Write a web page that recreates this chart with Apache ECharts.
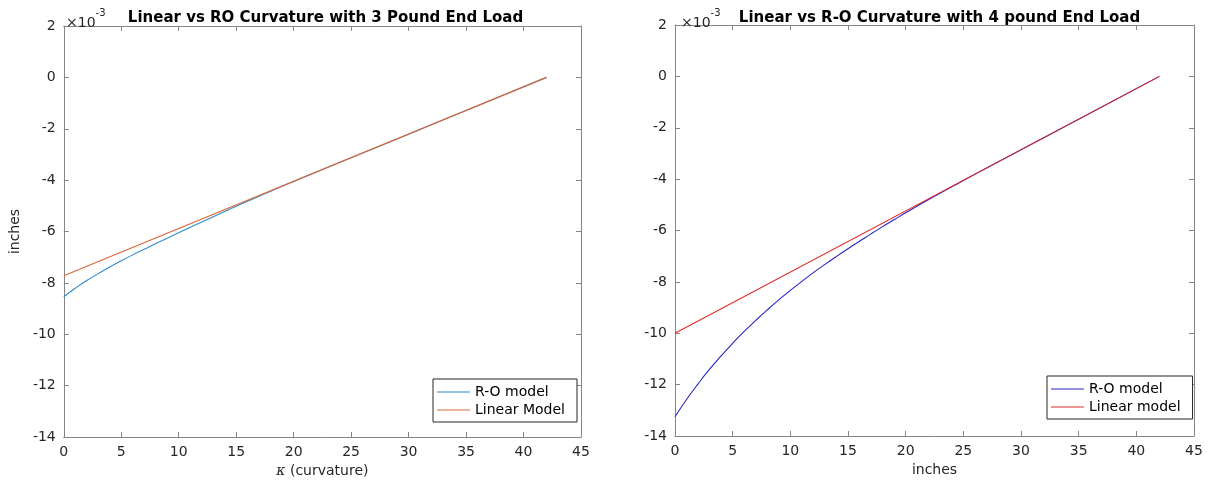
<!DOCTYPE html>
<html>
<head>
<meta charset="utf-8">
<script src="https://cdn.jsdelivr.net/npm/echarts@6/dist/echarts.min.js"></script>
<style>
    html, body { margin: 0; padding: 0; background: #fff; }
    #left { position: absolute; left: 0; top: 0; width: 620px; height: 490px; }
    #right { position: absolute; left: 620px; top: 0; width: 595px; height: 490px; }
</style>
</head>
<body>
<div id="left"></div>
<div id="right"></div>
<script>
// 数据（单位 1e-3 英寸）
const xTicks = [0, 5, 10, 15, 20, 25, 30, 35, 40, 45];
const yTicks = [-14, -12, -10, -8, -6, -4, -2, 0, 2];

// 左图：3 磅端部载荷
const leftX = [0, 1, 2, 3, 4, 5, 6, 7, 8, 10, 12, 14, 16, 18, 20, 22, 25, 30, 35, 42];
const leftRO = [-8.54, -8.21, -7.91, -7.64, -7.38, -7.14, -6.91, -6.69, -6.47, -6.05, -5.63, -5.22, -4.82, -4.43, -4.05, -3.68, -3.13, -2.21, -1.29, 0];
const leftLinX = [0, 42];
const leftLin = [-7.72, 0];

// 右图：4 磅端部载荷
const rightX = [0, 1, 2, 3, 4, 5, 6, 7, 8, 9, 10, 11, 12, 13, 14, 15, 16, 17, 18, 19, 20, 22, 24, 26, 30, 35, 42];
const rightRO = [-13.25, -12.58, -11.97, -11.40, -10.88, -10.39, -9.93, -9.50, -9.09, -8.70, -8.33, -7.98, -7.64, -7.32, -7.01, -6.71, -6.42, -6.13, -5.85, -5.58, -5.31, -4.79, -4.30, -3.81, -2.86, -1.67, 0];
const rightLinX = [0, 42];
const rightLin = [-10, 0];

const FONT = 'DejaVu Sans, Arial, sans-serif';
const AXIS_COLOR = '#858585';
const TEXT_COLOR = '#262626';

function pairs(xs, ys) {
    return xs.map((x, i) => [x, ys[i]]);
}

// 生成一张 MATLAB 风格的图
function makeOption(cfg) {
    const g = cfg.grid;
    const tickCommon = {
        inside: true,
        length: 5,
        lineStyle: { color: AXIS_COLOR, width: 1 }
    };
    const lineCommon = { show: true, onZero: false, lineStyle: { color: AXIS_COLOR, width: 1 } };

    const xBase = {
        type: 'value',
        min: xTicks[0],
        max: xTicks[xTicks.length - 1],
        interval: 5,
        splitLine: { show: false },
        axisLine: lineCommon,
        axisTick: tickCommon
    };
    const yBase = {
        type: 'value',
        min: yTicks[0],
        max: yTicks[yTicks.length - 1],
        interval: 2,
        splitLine: { show: false },
        axisLine: lineCommon,
        axisTick: tickCommon
    };

    return {
        backgroundColor: '#fff',
        animation: false,
        textStyle: { fontFamily: FONT },
        title: [
            {
                text: cfg.title,
                left: g.left + g.width / 2,
                top: 6,
                textAlign: 'center',
                textStyle: { fontFamily: FONT, fontSize: 15, fontWeight: 'bold', color: '#000' }
            },
            {
                text: '{a|×10}{b|-3}',
                left: g.left + 1,
                top: 3,
                textStyle: {
                    fontWeight: 'normal',
                    rich: {
                        a: { fontFamily: FONT, fontSize: 14, fontWeight: 'normal', color: TEXT_COLOR, lineHeight: 22, verticalAlign: 'bottom' },
                        b: { fontFamily: FONT, fontSize: 10, fontWeight: 'normal', color: TEXT_COLOR, lineHeight: 22, verticalAlign: 'top' }
                    }
                }
            }
        ],
        legend: {
            orient: 'vertical',
            left: cfg.legendPos[0],
            top: cfg.legendPos[1],
            data: [
                { name: cfg.roName, icon: 'rect' },
                { name: cfg.linName, icon: 'rect' }
            ],
            backgroundColor: '#fff',
            borderColor: '#262626',
            borderWidth: 1,
            borderRadius: 0,
            padding: [5, cfg.legendPadR, 4, 4],
            itemGap: 2,
            itemWidth: 33,
            itemHeight: 1,
            textStyle: { fontFamily: FONT, fontSize: 14, color: '#000', lineHeight: 16 }
        },
        grid: {
            left: g.left,
            top: g.top,
            width: g.width,
            height: g.height,
            containLabel: false
        },
        xAxis: [
            Object.assign({}, xBase, {
                position: 'bottom',
                name: cfg.xName,
                nameLocation: 'middle',
                nameGap: 27,
                nameTextStyle: {
                    fontFamily: FONT,
                    fontSize: 14,
                    color: TEXT_COLOR,
                    rich: {
                        k: { fontFamily: 'DejaVu Serif', fontStyle: 'italic', fontSize: 14, color: TEXT_COLOR }
                    }
                },
                axisLabel: { fontFamily: FONT, fontSize: 14, color: TEXT_COLOR, margin: 8 }
            }),
            Object.assign({}, xBase, {
                position: 'top',
                axisLabel: { show: false }
            })
        ],
        yAxis: [
            Object.assign({}, yBase, {
                position: 'left',
                name: cfg.yName,
                nameLocation: 'middle',
                nameGap: 37,
                nameTextStyle: { fontFamily: FONT, fontSize: 14, color: TEXT_COLOR },
                axisLabel: { fontFamily: FONT, fontSize: 14, color: TEXT_COLOR, margin: 8 }
            }),
            Object.assign({}, yBase, {
                position: 'right',
                axisLabel: { show: false }
            })
        ],
        series: [
            {
                name: cfg.roName,
                type: 'line',
                data: cfg.ro,
                symbol: 'none',
                smooth: 0.5,
                lineStyle: { color: cfg.roColor, width: 1.1 },
                itemStyle: { color: cfg.roColor }
            },
            {
                name: cfg.linName,
                type: 'line',
                data: cfg.lin,
                symbol: 'none',
                lineStyle: { color: cfg.linColor, width: 1.1 },
                itemStyle: { color: cfg.linColor }
            }
        ]
    };
}

const leftChart = echarts.init(document.getElementById('left'));
leftChart.setOption(makeOption({
    title: 'Linear vs RO Curvature with 3 Pound End Load',
    grid: { left: 60, top: 26, width: 521, height: 411 },
    xName: '{k|κ} (curvature)',
    yName: 'inches',
    roName: 'R-O model',
    linName: 'Linear Model',
    roColor: '#2b8ccc',
    linColor: '#d9693c',
    ro: pairs(leftX, leftRO),
    lin: pairs(leftLinX, leftLin),
    legendPos: [433, 379],
    legendPadR: 12
}));

const rightChart = echarts.init(document.getElementById('right'));
rightChart.setOption(makeOption({
    title: 'Linear vs R-O Curvature with 4 pound End Load',
    grid: { left: 55, top: 25, width: 519, height: 411 },
    xName: 'inches',
    yName: '',
    roName: 'R-O model',
    linName: 'Linear model',
    roColor: '#2626c4',
    linColor: '#e02a2a',
    ro: pairs(rightX, rightRO),
    lin: pairs(rightLinX, rightLin),
    legendPos: [427, 376],
    legendPadR: 12
}));
</script>
</body>
</html>
